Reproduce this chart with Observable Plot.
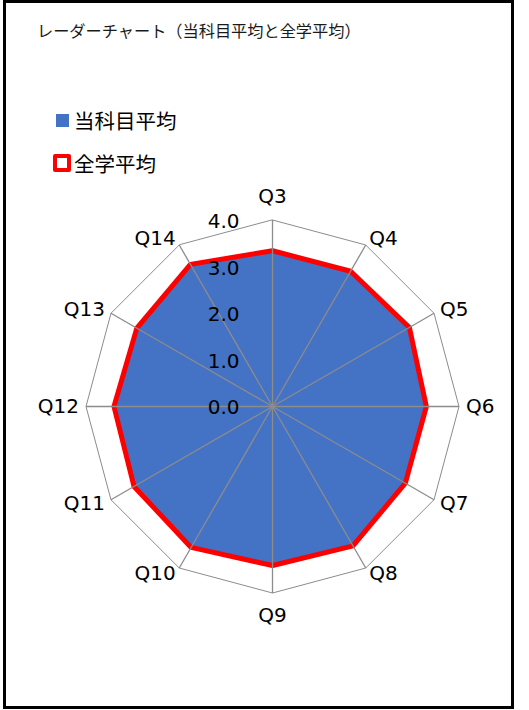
<!DOCTYPE html>
<html>
<head>
<meta charset="utf-8">
<script src="https://cdn.jsdelivr.net/npm/d3@7"></script>
<script src="https://cdn.jsdelivr.net/npm/@observablehq/plot@0.6"></script>
<style>
  html, body { margin: 0; padding: 0; background: #fff; }
  #wrap { position: relative; width: 529px; height: 710px; overflow: hidden; background: #fff; }
  #frame { position: absolute; left: 3px; top: 0px; width: 505px; height: 703px;
           border-left: 3px solid #000; border-top: 3px solid #000; border-right: 3px solid #000; border-bottom: 3px solid #000; }
  #chart { position: absolute; left: 0; top: 0; }
  .title { position: absolute; left: 37px; top: 22px; font-family: "Noto Sans CJK JP", sans-serif; font-size: 16.2px; line-height: 16px; color: #1a1a1a; white-space: nowrap; }
  .leg { position: absolute; font-family: "Noto Sans CJK JP", sans-serif; font-size: 20.5px; line-height: 22px; color: #000; white-space: nowrap; }
  .sw1 { position: absolute; left: 56px; top: 114px; width: 13px; height: 13px; background: #4472C4; }
  .sw2 { position: absolute; left: 53px; top: 154px; width: 10px; height: 10px; border: 4px solid #FF0000; border-radius: 2px; background: #fff; }
</style>
</head>
<body>
<div id="wrap">
  <div id="chart"></div>
  <div id="frame"></div>
  <div class="title">レーダーチャート（当科目平均と全学平均）</div>
  <div class="sw1"></div>
  <div class="leg" style="left:74px; top:109px;">当科目平均</div>
  <div class="sw2"></div>
  <div class="leg" style="left:74px; top:152px;">全学平均</div>
</div>
<script>
const categories = ["Q3","Q4","Q5","Q6","Q7","Q8","Q9","Q10","Q11","Q12","Q13","Q14"];
const kamokuAvg = [3.31, 3.32, 3.36, 3.27, 3.26, 3.42, 3.38, 3.46, 3.40, 3.37, 3.33, 3.49];
const zengakuAvg = [3.34, 3.35, 3.39, 3.30, 3.29, 3.45, 3.41, 3.49, 3.43, 3.40, 3.36, 3.52];
const tickValues = [0, 1, 2, 3, 4];
const tickLabels = ["0.0", "1.0", "2.0", "3.0", "4.0"];
const maxValue = 4;

const W = 529, H = 710;
const cx = 272, cy = 406, R = 186.5;
const k = R / maxValue; // px per unit

const n = categories.length;
const ang = i => (i / n) * 2 * Math.PI;
const px = (i, r) => r * Math.sin(ang(i));
const py = (i, r) => r * Math.cos(ang(i));

const pts = vals => vals.map((v, i) => ({x: px(i, v), y: py(i, v)}));
const gridRings = tickValues.filter(t => t > 0).flatMap(t =>
  categories.map((c, i) => ({ring: t, x: px(i, t), y: py(i, t)})));
const spokes = categories.map((c, i) => ({x: px(i, maxValue), y: py(i, maxValue)}));

const off = 7 / k, offTB = 23 / k;
const lbl = categories.map((c, i) => {
  const s = Math.sin(ang(i));
  const side = Math.abs(s) < 1e-6 ? "middle" : (s > 0 ? "start" : "end");
  const r = maxValue + (side === "middle" ? offTB : off);
  return {text: c, x: px(i, r), y: py(i, r), side};
});
const ticks = tickValues.map((t, i) => ({x: 0, y: t, text: tickLabels[i]}));

const font = "'DejaVu Sans', Verdana, sans-serif";
const grey = "#8c8c8c";

const chart = Plot.plot({
  width: W, height: H,
  marginTop: 0, marginRight: 0, marginBottom: 0, marginLeft: 0,
  x: {domain: [-cx / k, (W - cx) / k], axis: null},
  y: {domain: [-(H - cy) / k, cy / k], axis: null},
  style: {background: "transparent"},
  marks: [
    Plot.line(gridRings, {x: "x", y: "y", z: "ring", curve: "linear-closed", stroke: grey, strokeWidth: 1}),
    Plot.line(pts(kamokuAvg), {x: "x", y: "y", curve: "linear-closed", fill: "#4472C4", stroke: "none"}),
    Plot.line(pts(zengakuAvg), {x: "x", y: "y", curve: "linear-closed", stroke: "#FF0000", strokeWidth: 5, strokeLinejoin: "miter"}),
    Plot.link(spokes, {x1: 0, y1: 0, x2: "x", y2: "y", stroke: grey, strokeWidth: 1.3}),
    Plot.dot([{x: 0, y: 0}], {x: "x", y: "y", r: 2, fill: grey}),
    Plot.text(ticks, {x: "x", y: "y", text: "text", textAnchor: "end", lineAnchor: "middle", dx: -33, dy: 1.5, fontSize: 20, fontFamily: font, fill: "#000"}),
    Plot.text(lbl.filter(d => d.side === "start"), {x: "x", y: "y", text: "text", textAnchor: "start", lineAnchor: "middle", fontSize: 20, fontFamily: font, fill: "#000"}),
    Plot.text(lbl.filter(d => d.side === "end"), {x: "x", y: "y", text: "text", textAnchor: "end", lineAnchor: "middle", fontSize: 20, fontFamily: font, fill: "#000"}),
    Plot.text(lbl.filter(d => d.side === "middle"), {x: "x", y: "y", text: "text", textAnchor: "middle", lineAnchor: "middle", fontSize: 20, fontFamily: font, fill: "#000"})
  ]
});
document.getElementById("chart").appendChild(chart);
</script>
</body>
</html>
